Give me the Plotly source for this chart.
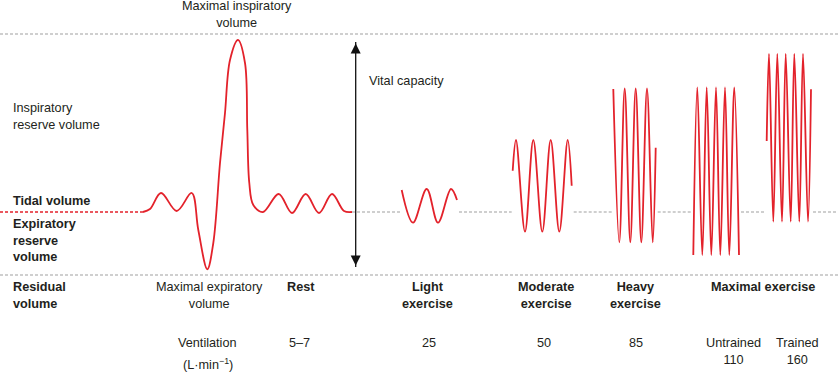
import plotly.graph_objects as go

# ---------------- data ----------------
# Volume levels (diagram units; axis reversed so larger volume plots higher)
TLC_LEVEL = 34     # total lung capacity (top dashed line)
FRC_LEVEL = 212    # end-expiratory level (tidal baseline)
RV_LEVEL = 275     # residual volume (bottom dashed line)

# Rest breathing with maximal inspiration / expiration manoeuvre
rest_t = [143, 150, 161, 176.7, 191.7, 198.3, 207.3, 213.3, 220, 225, 230, 238,
          245, 247.3, 249.3, 253.3, 263, 278.7, 292, 305.7, 319, 332, 344, 352]
rest_v = [212, 209, 193, 211, 193, 230, 269.3, 243, 163, 113, 60, 40,
          63, 130, 183, 205, 212, 194, 213, 194, 213, 194, 211, 212]

light_t = [401.7, 413, 426.7, 438, 451, 457]
light_v = [190, 222.7, 189, 222.7, 189, 200]

moderate_t = [512.7, 516, 525, 533.3, 542.3, 550.7, 559.3, 567.7, 571.7]
moderate_v = [170.7, 140, 231.7, 140, 231.7, 140, 231.7, 140, 185.7]

heavy_t = [613.3, 619.3, 624.7, 630.3, 635.7, 641.3, 647, 652.7, 655.7]
heavy_v = [89, 242.3, 88.3, 242.3, 88.3, 242.3, 88.3, 242.3, 147.7]

untrained_t = [693.3, 697.3, 702.3, 706.7, 711.3, 716, 720.3, 725, 729.3, 734.3, 739]
untrained_v = [255, 87.3, 255, 87.3, 255, 87.3, 255, 87.3, 255, 87.3, 255]

trained_t = [766.7, 769, 773.3, 777.3, 782, 785.7, 790.7, 794.3, 799.3, 803, 808, 811]
trained_v = [141, 54, 221.7, 54, 221.7, 54, 221.7, 54, 221.7, 54, 221.7, 89.3]

stage_labels = ["Rest", "Light<br>exercise", "Moderate<br>exercise",
                "Heavy<br>exercise", "Maximal exercise"]
ventilation_labels = ["5–7", "25", "50", "85"]
maximal_groups = ["Untrained", "Trained"]
maximal_ventilation = ["110", "160"]

# ---------------- styles ----------------
RED = "#e3222b"
GRAY = "#a0a0a0"
TXT = "#231f20"
FONT = "Liberation Sans, Arial, Helvetica, sans-serif"
DASH = "3px,2px"
FS = 12.7

fig = go.Figure()

# top and bottom reference lines
for lvl in (TLC_LEVEL, RV_LEVEL):
    fig.add_trace(go.Scatter(x=[0, 838], y=[lvl, lvl], mode="lines",
                             line=dict(color=GRAY, width=1.2, dash=DASH),
                             hoverinfo="skip"))

# red dashed baseline on the left
fig.add_trace(go.Scatter(x=[0, rest_t[0]], y=[FRC_LEVEL, FRC_LEVEL], mode="lines",
                         line=dict(color=RED, width=1.4, dash=DASH), hoverinfo="skip"))

# gray dashed baseline broken by the exercise waves
waves = [(light_t, light_v), (moderate_t, moderate_v), (heavy_t, heavy_v),
         (untrained_t, untrained_v), (trained_t, trained_v)]
bx, by = [], []
start = rest_t[-1]
for t, _ in waves:
    bx += [start, min(t) - 1, None]
    by += [FRC_LEVEL, FRC_LEVEL, None]
    start = max(t) + 2
bx += [start, 838]
by += [FRC_LEVEL, FRC_LEVEL]
fig.add_trace(go.Scatter(x=bx, y=by, mode="lines",
                         line=dict(color=GRAY, width=1.2, dash=DASH), hoverinfo="skip"))

# red traces
for t, v in [(rest_t, rest_v)] + waves:
    fig.add_trace(go.Scatter(x=t, y=v, mode="lines",
                             line=dict(color=RED, width=1.8, shape="spline", smoothing=1.0),
                             hoverinfo="skip"))

# vital capacity double arrow (shaft + heads)
VC_X = 355.7
fig.add_trace(go.Scatter(x=[VC_X, VC_X], y=[TLC_LEVEL + 8, RV_LEVEL - 8], mode="lines",
                         line=dict(color="#111", width=1.3), hoverinfo="skip"))
fig.add_trace(go.Scatter(x=[VC_X, VC_X], y=[TLC_LEVEL + 9.5, RV_LEVEL - 9.5], mode="markers",
                         marker=dict(symbol=["arrow-up", "arrow-down"], size=10,
                                     color="#111", line=dict(width=0)),
                         hoverinfo="skip"))

ann = []


def txt(x, y, text, anchor="center", size=FS, color=TXT):
    ann.append(dict(x=x, y=y, xref="x", yref="y", text=text, showarrow=False,
                    xanchor=anchor, yanchor="middle",
                    font=dict(family=FONT, size=size, color=color),
                    align=anchor if anchor != "center" else "center"))


txt(237, 14.5, "Maximal inspiratory<br>volume")
txt(367, 81, "Vital capacity", anchor="left")
txt(11, 116, "Inspiratory<br>reserve volume", anchor="left")
txt(11, 201, "<b>Tidal volume</b>", anchor="left")
txt(11, 240, "<b>Expiratory<br>reserve<br>volume</b>", anchor="left")
txt(11, 295, "<b>Residual<br>volume</b>", anchor="left")
txt(209, 295, "Maximal expiratory<br>volume")

stage_pos = [(301, 287), (427, 295), (546, 295), (635.5, 295), (763, 287)]
for (x, y), lab in zip(stage_pos, stage_labels):
    txt(x, y, "<b>" + lab + "</b>")

txt(207.5, 343, "Ventilation")
txt(207.5, 364, "(L·min<sup>−1</sup>)")
for x, lab in zip([299.5, 429, 544, 636], ventilation_labels):
    txt(x, 343, lab)
for x, g, v in zip([733, 797], maximal_groups, maximal_ventilation):
    txt(x, 351, g + "<br>" + v)

fig.update_layout(
    width=838, height=372,
    margin=dict(l=0, r=0, t=0, b=0),
    paper_bgcolor="white", plot_bgcolor="white",
    showlegend=False, hovermode=False,
    xaxis=dict(range=[0, 838], visible=False, fixedrange=True),
    yaxis=dict(range=[372, 0], visible=False, fixedrange=True),
    annotations=ann,
)

fig.write_html("out.html", config={"displayModeBar": False},
               post_script="document.body.style.margin='0';document.body.style.overflow='hidden';")
